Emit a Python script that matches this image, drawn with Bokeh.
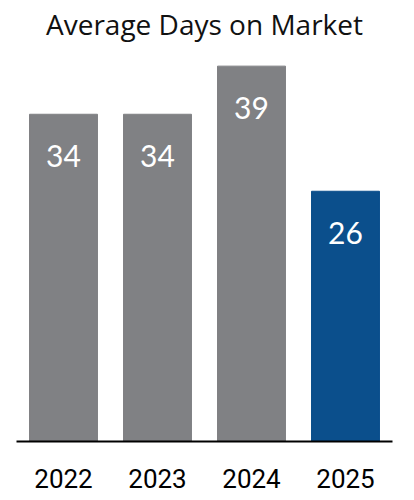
from bokeh.plotting import figure
from bokeh.models import ColumnDataSource, Range1d, FactorRange, Label
from bokeh.core.properties import value
from bokeh.embed import file_html
from bokeh.resources import INLINE

title_text = "Average Days on Market"
years = ["2022", "2023", "2024", "2025"]
days = [34, 34, 39, 26]
colors = ["#808184", "#808184", "#808184", "#0B4F8C"]
labels = [str(d) for d in days]

src = ColumnDataSource(dict(x=years, top=days, color=colors, label=labels))

p = figure(x_range=FactorRange(*years, range_padding=0), y_range=Range1d(0, 45.82),
           width=406, height=496, output_backend="svg", toolbar_location=None,
           min_border_left=16, min_border_right=14, min_border_top=0, min_border_bottom=55)

p.add_layout(Label(x=188, y=418, x_units="screen", y_units="screen", text=title_text,
                   text_align="center", text_baseline="alphabetic",
                   text_font="Open Sans", text_font_size="28px", text_color="#111111"))

p.vbar(x="x", top="top", width=0.723, color="color", source=src)
p.text(x="x", y="top", text="label", source=src, y_offset=42,
       text_align="center", text_baseline="middle", text_color="white",
       text_font=value("Lato"), text_font_size="30px")

p.yaxis.visible = False
p.xgrid.visible = False
p.ygrid.visible = False
p.outline_line_color = None
p.xaxis.axis_line_color = "black"
p.xaxis.axis_line_width = 2
p.xaxis.major_tick_line_color = None
p.xaxis.minor_tick_line_color = None
p.xaxis.major_label_standoff = 21
p.xaxis.major_label_text_font = "Roboto"
p.xaxis.major_label_text_font_size = "26px"
p.xaxis.major_label_text_color = "black"

open("out.html", "w").write(file_html(p, INLINE))
